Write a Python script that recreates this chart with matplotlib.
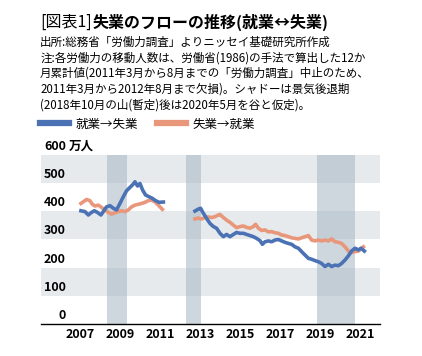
import matplotlib

matplotlib.use('Agg')
import matplotlib.pyplot as plt
from matplotlib.lines import Line2D
import numpy as np

plt.rcParams['font.family'] = ['Noto Sans CJK JP', 'DejaVu Sans']

# 就業→失業 (万人, 12か月累計)
emp_to_unemp_t = [2007.05, 2007.25, 2007.42, 2007.55, 2007.72, 2007.88, 2008.05,
                  2008.33, 2008.5, 2008.67, 2008.83, 2009.0, 2009.17, 2009.33,
                  2009.5, 2009.67, 2009.75, 2009.88, 2010.0, 2010.13, 2010.28,
                  2010.45, 2010.62, 2010.78, 2010.95, 2011.17,
                  np.nan,
                  2012.75, 2012.92, 2013.03, 2013.17, 2013.33, 2013.5, 2013.67,
                  2013.83, 2014.0, 2014.17, 2014.33, 2014.5, 2014.67, 2014.83,
                  2015.0, 2015.17, 2015.33, 2015.5, 2015.67, 2015.83, 2016.0,
                  2016.12, 2016.25, 2016.42, 2016.58, 2016.75, 2016.92, 2017.08,
                  2017.25, 2017.42, 2017.58, 2017.75, 2017.92, 2018.08, 2018.25,
                  2018.42, 2018.58, 2018.75, 2018.92, 2019.08, 2019.25, 2019.42,
                  2019.58, 2019.75, 2019.92, 2020.08, 2020.25, 2020.42, 2020.58,
                  2020.75, 2020.92, 2021.05, 2021.22]
emp_to_unemp = [402, 399, 387, 395, 402, 396, 387,
                416, 420, 411, 405, 428, 452, 473,
                485, 497, 505, 490, 499, 476, 458,
                452, 446, 438, 432, 433,
                np.nan,
                401, 408, 411, 393, 375, 357, 346,
                340, 322, 310, 318, 310, 318, 325,
                322, 322, 318, 314, 310, 304, 296,
                283, 292, 295, 292, 298, 300, 295,
                290, 286, 283, 274, 269, 257, 245,
                233, 230, 225, 221, 215, 204, 212,
                204, 209, 207, 215, 227, 242, 259,
                269, 263, 269, 259]

# 失業→就業
unemp_to_emp_t = [2007.05, 2007.17, 2007.33, 2007.5, 2007.62, 2007.75, 2007.92,
                  2008.08, 2008.25, 2008.42, 2008.58, 2008.75, 2008.92, 2009.08,
                  2009.25, 2009.42, 2009.58, 2009.75, 2009.92, 2010.08, 2010.25,
                  2010.42, 2010.58, 2010.75, 2010.92, 2011.12,
                  np.nan,
                  2012.75, 2012.92, 2013.08, 2013.25, 2013.42, 2013.58, 2013.75,
                  2013.92, 2014.0, 2014.17, 2014.33, 2014.5, 2014.67, 2014.83,
                  2015.0, 2015.17, 2015.33, 2015.5, 2015.67, 2015.78, 2015.92,
                  2016.08, 2016.25, 2016.42, 2016.58, 2016.75, 2016.92, 2017.08,
                  2017.25, 2017.42, 2017.58, 2017.75, 2017.92, 2018.08, 2018.25,
                  2018.42, 2018.58, 2018.75, 2018.92, 2019.08, 2019.25, 2019.42,
                  2019.58, 2019.75, 2019.92, 2020.08, 2020.25, 2020.42, 2020.58,
                  2020.75, 2020.92, 2021.08, 2021.17]
unemp_to_emp = [428, 434, 442, 438, 425, 419, 422,
                414, 405, 396, 390, 395, 399, 402,
                399, 405, 416, 422, 425, 428, 432,
                438, 440, 434, 422, 407,
                np.nan,
                373, 376, 373, 378, 380, 378, 381,
                387, 389, 378, 369, 361, 351, 342,
                346, 348, 343, 340, 346, 354, 340,
                332, 334, 327, 328, 324, 322, 316,
                314, 310, 306, 304, 302, 306, 310,
                314, 298, 295, 298, 295, 298, 295,
                302, 292, 290, 286, 274, 259, 254,
                257, 259, 269, 274]

recessions = [(2008.35, 2009.35), (2012.3, 2013.05), (2018.85, 2020.75)]
year_ticks = [2007, 2009, 2011, 2013, 2015, 2017, 2019, 2021]
y_labels = [0, 100, 200, 300, 400, 500, 600]

blue = '#4a72b4'
orange = '#e9977b'

fig = plt.figure(figsize=(4.22, 3.56), dpi=100)
ax = fig.add_axes([0.097, 0.0899, 0.8035, 0.4747])

for lo in (100, 300, 500):
    ax.axhspan(lo, lo + 100, color='#e7eaed', lw=0, zorder=0)
for a, b in recessions:
    ax.axvspan(a, b, color='#9fb1bf', alpha=0.5, lw=0, zorder=1)

ax.plot(emp_to_unemp_t, emp_to_unemp, color=blue, lw=2.6, zorder=3)
ax.plot(unemp_to_emp_t, unemp_to_emp, color=orange, lw=2.6, zorder=2)

ax.set_xlim(2005.05, 2022.0)
ax.set_ylim(0, 600)
ax.set_xticks(year_ticks)
ax.set_xticklabels([str(y) for y in year_ticks], fontsize=9, fontweight='bold')
ax.tick_params(axis='x', length=0, pad=3)
ax.set_yticks([])
for s in ('top', 'right', 'left'):
    ax.spines[s].set_visible(False)
ax.spines['bottom'].set_color('black')
ax.spines['bottom'].set_linewidth(1)

trans = ax.get_yaxis_transform()
for v in y_labels:
    ax.annotate(str(v), xy=(0.0737, v), xycoords=trans, xytext=(0, 1.5),
                textcoords='offset points', ha='right', va='bottom',
                fontsize=9, fontweight='bold', zorder=4)
ax.annotate('万人', xy=(0.083, 600), xycoords=trans, xytext=(0, 1.5),
            textcoords='offset points', ha='left', va='bottom',
            fontsize=9, fontweight='bold', annotation_clip=False)

# タイトル・注記
t1 = fig.text(0.095, 1 - 22 / 356, '[図表1]', fontsize=11.5, va='center')
fig.canvas.draw()
bb = t1.get_window_extent(fig.canvas.get_renderer())
fig.text(bb.x1 / fig.bbox.width + 0.002, 1 - 22 / 356, '失業のフローの推移(就業↔失業)',
         fontsize=11.5, fontweight='bold', va='center')

notes = [
    '出所:総務省「労働力調査」よりニッセイ基礎研究所作成',
    '注:各労働力の移動人数は、労働省(1986)の手法で算出した12か',
    '月累計値(2011年3月から8月までの「労働力調査」中止のため、',
    '2011年3月から2012年8月まで欠損)。シャドーは景気後退期',
    '(2018年10月の山(暫定)後は2020年5月を谷と仮定)。',
]
for i, line in enumerate(notes):
    fig.text(0.095, 1 - (42 + i * 15.7) / 356, line, fontsize=8.3, va='center')

handles = [Line2D([], [], color=blue, lw=4.5), Line2D([], [], color=orange, lw=4.5)]
fig.legend(handles, ['就業→失業', '失業→就業'], loc='center left',
           bbox_to_anchor=(0.094, 1 - 124 / 356), ncol=2, frameon=False,
           fontsize=9, handlelength=2.35, handletextpad=0.5, columnspacing=1.5,
           borderaxespad=0, borderpad=0)

fig.savefig('out.png', dpi=100)
